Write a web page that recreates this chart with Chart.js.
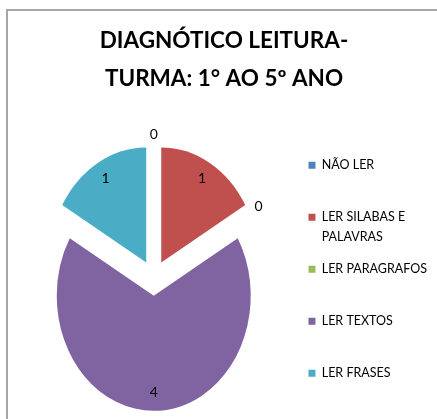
<!DOCTYPE html>
<html>
<head>
<meta charset="utf-8">
<title>Diagnóstico leitura</title>
<script src="https://cdn.jsdelivr.net/npm/chart.js@4/dist/chart.umd.min.js"></script>
<style>
  html, body { margin: 0; padding: 0; background: #fff; overflow: hidden; }
  #frame { position: absolute; left: 6px; top: 9px; right: 0; bottom: 0; border-left: 2px solid #a6a6a6; border-top: 2px solid #a6a6a6; }
  #readingChart { position: absolute; left: 0; top: 0; }
</style>
</head>
<body>
<div id="frame"></div>
<canvas id="readingChart" width="437" height="430"></canvas>
<script>
const titleLines = ['DIAGNÓTICO LEITURA-', 'TURMA: 1° AO 5º ANO'];
const categories = ['NÃO LER', 'LER SILABAS E PALAVRAS', 'LER PARAGRAFOS', 'LER TEXTOS', 'LER FRASES'];
const students = [0, 1, 0, 4, 1];
const sliceColors = ['#4F81BD', '#C0504D', '#9BBB59', '#8064A2', '#4BACC6'];

const EXPLODE = 15;     // every slice is pulled out a bit
const STRETCH = 1.186;  // pie is drawn as an upright ellipse

// legend text wraps like excel does, every entry takes two lines
function legendLines(label) {
  const lines = [];
  let line = '';
  label.split(' ').forEach(word => {
    const next = line ? line + ' ' + word : word;
    if (next.length > 14 && line) {
      lines.push(line);
      line = word;
    } else {
      line = next;
    }
  });
  lines.push(line);
  while (lines.length < 2) lines.push('');
  return lines;
}

class StretchedArc extends Chart.ArcElement {
  draw(ctx) {
    const mid = (this.startAngle + this.endAngle) / 2;
    ctx.save();
    ctx.translate(this.x, this.y);
    ctx.scale(1, STRETCH);
    ctx.translate(Math.cos(mid) * EXPLODE - this.x, Math.sin(mid) * EXPLODE - this.y);
    super.draw(ctx);
    ctx.restore();
  }
}
StretchedArc.id = 'stretchedArc';

class ExplodedPie extends Chart.PieController {}
ExplodedPie.id = 'explodedPie';
ExplodedPie.defaults = { dataElementType: 'stretchedArc' };

Chart.register(StretchedArc, ExplodedPie);

const sliceValueLabels = {
  id: 'sliceValueLabels',
  afterDatasetsDraw(chart) {
    const ctx = chart.ctx;
    const meta = chart.getDatasetMeta(0);
    ctx.save();
    ctx.font = '14px Lato';
    ctx.fillStyle = '#000';
    ctx.textAlign = 'center';
    ctx.textBaseline = 'middle';
    meta.data.forEach((arc, i) => {
      const value = students[i];
      const mid = (arc.startAngle + arc.endAngle) / 2;
      const dist = value > 0 ? EXPLODE + arc.outerRadius * 0.84 : arc.outerRadius + 24;
      ctx.fillText(String(value), arc.x + Math.cos(mid) * dist, arc.y + Math.sin(mid) * dist * STRETCH);
    });
    ctx.restore();
  }
};

const baseLabels = Chart.DoughnutController.overrides.plugins.legend.labels.generateLabels;

new Chart(document.getElementById('readingChart'), {
  type: 'explodedPie',
  data: {
    labels: categories,
    datasets: [{
      data: students,
      backgroundColor: sliceColors,
      borderWidth: 0,
      clip: false
    }]
  },
  options: {
    responsive: false,
    animation: false,
    radius: 97,
    layout: { padding: { left: 11, right: 0, top: 0, bottom: 4 } },
    plugins: {
      title: {
        display: true,
        text: titleLines,
        color: '#000',
        font: { family: 'Lato', size: 22.5, weight: 'bold', lineHeight: '38px' },
        padding: { top: 22, bottom: 32 }
      },
      legend: {
        position: 'right',
        align: 'center',
        fullSize: false,
        title: { display: true, text: '', padding: 0, font: { size: 10, lineHeight: 1 } },
        labels: {
          boxWidth: 7,
          boxHeight: 7,
          padding: 12,
          color: '#000',
          font: { family: 'Lato', size: 12.5, lineHeight: '20px' },
          generateLabels(chart) {
            return baseLabels(chart).map((item, i) => Object.assign(item, { text: legendLines(categories[i]) }));
          }
        }
      },
      tooltip: { enabled: false }
    }
  },
  plugins: [sliceValueLabels]
});
</script>
</body>
</html>
